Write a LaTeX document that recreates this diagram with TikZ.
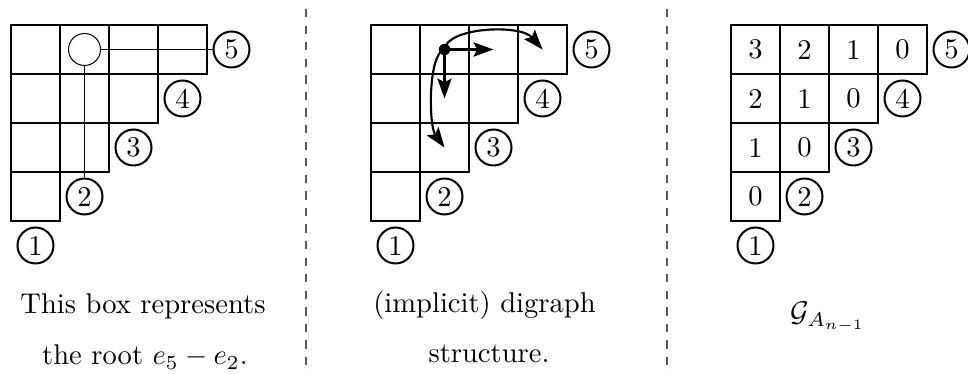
\documentclass[tikz,border=0pt]{standalone}
\usetikzlibrary{arrows.meta}
\begin{document}
\begin{tikzpicture}[x=0.35pt,y=-0.35pt,
  cell/.style={draw, line width=0.75pt, minimum size=17.15pt, inner sep=0pt},
  lab/.style={draw, circle, line width=0.7pt, minimum size=12.6pt, inner sep=0pt},
  thinline/.style={line width=0.35pt},
  arr/.style={line width=0.75pt, -{Stealth[length=7pt,width=5pt,inset=1.3pt]}},
  sepline/.style={line width=0.4pt, black!65, dash pattern=on 2.9pt off 2.9pt},
  txt/.style={anchor=base, inner sep=0pt}]
\useasboundingbox (0,0) rectangle (968,374);
% grids and circled labels
\foreach \p/\ox/\show in {A/11/0,B/371/0,C/731/1}{
  \foreach \r in {1,...,4}{
    \pgfmathtruncatemacro\n{5-\r}
    \foreach \c in {1,...,\n}{
      \pgfmathtruncatemacro\v{5-\r-\c}
      \node[cell] (\p-\r-\c) at (\ox+49*\c-24.5, 49*\r+0.5) {\ifnum\show=1 \v\fi};
    }
  }
  \foreach \k in {1,...,5}
    \node[lab] (\p-o\k) at (\ox+49*\k-24.5, 294.5-49*\k) {\k};
}
% panel A: the root box
\node[draw, circle, thinline, minimum size=11.2pt, inner sep=0pt] (big) at (A-1-2) {};
\draw[thinline] (big) -- (A-o5);
\draw[thinline] (big) -- (A-o2);
% panel B: digraph structure
\node[circle, fill, minimum size=4pt, inner sep=0pt] (dot) at (B-1-2) {};
\draw[arr] (dot.center) -- (B-1-3.center);
\draw[arr] (dot.center) -- (B-2-2.center);
\draw[arr] (dot.center) .. controls +(2,-22) and +(-22.5,-26) .. (B-1-4.center);
\draw[arr] (dot.center) .. controls +(-16.5,4) and +(-16,-22) .. (B-3-2.center);
% captions
\node[txt] (t1) at (143,314) {This box represents};
\node[txt] (t2) at (145,365) {the root $e_5-e_2$.};
\node[txt] (t3) at (484.5,313) {(implicit) digraph};
\node[txt] (t4) at (489,363) {structure.};
\node[txt] (t5) at (828,322) {$\mathcal{G}_{A_{n-1}}$};
% separators
\coordinate (s1a) at (306,9); \coordinate (s1b) at (306,380);
\coordinate (s2a) at (667,9); \coordinate (s2b) at (667,380);
\draw[sepline] (s1a) -- (s1b);
\draw[sepline] (s2a) -- (s2b);
\end{tikzpicture}
\end{document}
